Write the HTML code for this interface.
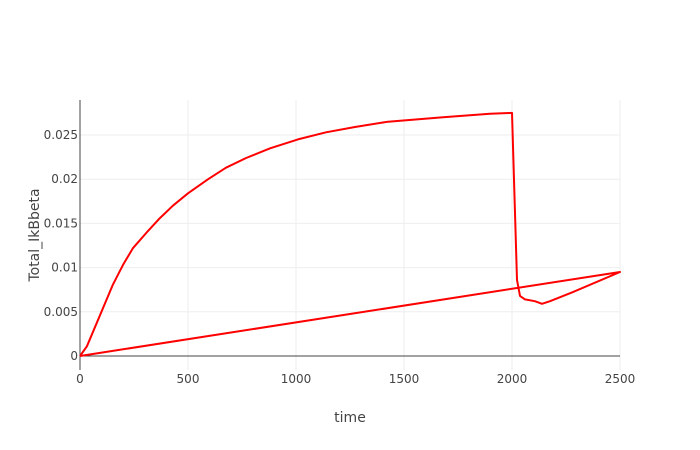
<!DOCTYPE html>
<html><head><meta charset="utf-8"><style>
body{margin:0;background:#fff;}
svg{display:block;font-family:"DejaVu Sans","Liberation Sans",sans-serif;}
</style></head><body>
<svg id="chart" width="700" height="450">
<g id="grid"></g>
<g id="axes"></g>
<path id="line" fill="none" stroke="#ff0000" stroke-width="2" stroke-linejoin="round"></path>
<text x="350" y="422" text-anchor="middle" font-size="14" fill="#444">time</text>
<text transform="translate(39,235) rotate(-90)" text-anchor="middle" font-size="14" fill="#444">Total_IkBbeta</text>
</svg>
<script>
const xVals=[0,32,153,199,245,306,370,430,500,593,676,769,880,1009,1139,1273,1426,1681,1898,2000,2023,2037,2060,2106,2139,2176,2278,2500,0];
const yVals=[0,0.0011,0.0081,0.0103,0.0122,0.0139,0.0156,0.017,0.0184,0.02,0.0213,0.0224,0.0235,0.0245,0.0253,0.0259,0.0265,0.027,0.0274,0.0275,0.0086,0.0068,0.0064,0.0062,0.0059,0.0062,0.0072,0.0095,0];
const xTicks=[0,500,1000,1500,2000,2500];
const yTicks=[0,0.005,0.01,0.015,0.02,0.025];
const yTickLabels=["0","0.005","0.01","0.015","0.02","0.025"];
const X0=80,X1=620,Y0=356,Y25=135;
function xs(v){return X0+(X1-X0)*v/2500;}
function ys(v){return Y0+(Y25-Y0)*v/0.025;}
const NS="http://www.w3.org/2000/svg";
const grid=document.getElementById('grid'),axes=document.getElementById('axes');
function mk(tag,attrs,parent){const e=document.createElementNS(NS,tag);for(const k in attrs)e.setAttribute(k,attrs[k]);parent.appendChild(e);return e;}
xTicks.forEach(t=>{
  if(t>0){const g=mk('line',{x1:xs(t),x2:xs(t),y1:100,y2:370,stroke:'#eeeeee','stroke-width':1},grid);
  
  }
  const l=mk('text',{x:xs(t),y:383,'text-anchor':'middle','font-size':12,fill:'#444'},axes);
  l.textContent=t;
  
  
});
yTicks.forEach((t,i)=>{
  if(t>0){const g=mk('line',{x1:80,x2:620,y1:ys(t),y2:ys(t),stroke:'#eeeeee','stroke-width':1},grid);
  
  }
  const l=mk('text',{x:78,y:ys(t)+4,'text-anchor':'end','font-size':12,fill:'#444'},axes);
  l.textContent=yTickLabels[i];
  
  
});
const zl=mk('line',{x1:80,x2:620,y1:ys(0),y2:ys(0),stroke:'#444','stroke-width':1},axes);


const ya=mk('line',{x1:80,x2:80,y1:100,y2:370,stroke:'#444','stroke-width':1},axes);


document.getElementById('line').setAttribute('d',xVals.map((x,i)=>(i?'L':'M')+xs(x).toFixed(1)+','+ys(yVals[i]).toFixed(1)).join(''));
</script>
</body></html>
